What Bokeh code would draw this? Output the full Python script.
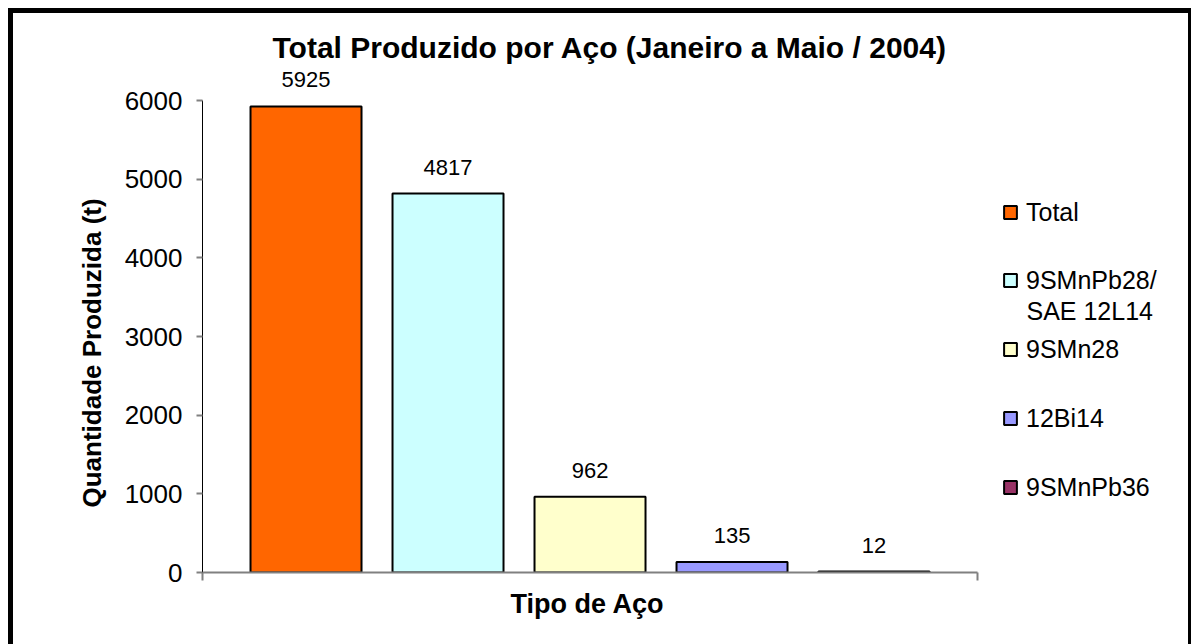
from bokeh.plotting import figure
from bokeh.models import (ColumnDataSource, Range1d, FixedTicker, LabelSet, Legend,
                          LegendItem, Title, Label, InlineStyleSheet)
from bokeh.core.properties import value
from bokeh.embed import file_html
from bokeh.resources import INLINE

categories = ["Total", "9SMnPb28/SAE 12L14", "9SMn28", "12Bi14", "9SMnPb36"]
legend_labels = ["Total", "9SMnPb28/", "9SMn28", "12Bi14", "9SMnPb36"]
legend_second_line = "SAE 12L14"
values = [5925, 4817, 962, 135, 12]
colors = ["#FF6600", "#CCFFFF", "#FFFFCC", "#9999FF", "#993366"]
y_ticks = [0, 1000, 2000, 3000, 4000, 5000, 6000]

FONT = "Liberation Sans"

xs = list(range(len(categories)))
src = ColumnDataSource(dict(
    x=xs, top=values, color=colors, cat=categories,
    label=[str(v) for v in values],
))

# layout (screen px of the frame)
FL, FR, FT, FB = 202, 1186, 66, 572
PX = 142.0                      # pixels per category step
x_lo = -0.729
x_hi = len(categories) - 1 + 0.729
x_view_hi = x_lo + (FR - FL) / PX      # frame extends under the legend
y_max = 6000
y_top = y_max * (FB - FT) / 472.0      # head-room above the axis for the labels

p = figure(width=1191, height=644, output_backend="svg", toolbar_location=None,
           x_range=Range1d(x_lo, x_view_hi), y_range=Range1d(0, y_top),
           min_border_left=FL, min_border_right=1191 - FR, min_border_top=FT,
           min_border_bottom=644 - FB)
p.outline_line_color = None
p.xgrid.grid_line_color = None
p.ygrid.grid_line_color = None
p.background_fill_color = "white"
p.border_fill_color = "white"
p.stylesheets = [InlineStyleSheet(css=(
    ":host::after { content: ''; position: absolute; left: 8px; top: 8px; right: 0; bottom: 0;"
    " border-style: solid; border-color: black; border-width: 5px 3px 0 5px;"
    " box-sizing: border-box; pointer-events: none; z-index: 10; }"))]

r = p.vbar(x="x", top="top", width=111 / PX, source=src, fill_color="color",
           line_color="black", line_width=2)

labels = LabelSet(x="x", y="top", text="label", source=src, y_offset=19,
                  text_align="center", text_baseline="alphabetic",
                  text_font=value(FONT), text_font_size="22px", text_color="black")
p.add_layout(labels)

# title
p.title.text = "Total Produzido por Aço (Janeiro a Maio / 2004)"
p.title.text_font = FONT
p.title.text_font_size = "30px"
p.title.text_font_style = "bold"
p.title.text_color = "black"
p.title.align = "left"
p.title.offset = 70
p.title.standoff = 5

# y axis
ya = p.yaxis[0]
ya.ticker = FixedTicker(ticks=y_ticks)
ya.bounds = (0, y_max)
ya.minor_tick_line_color = None
ya.major_tick_in = 0
ya.major_tick_out = 6
ya.major_tick_line_color = "#808080"
ya.major_tick_line_width = 2
ya.axis_line_color = "black"
ya.major_label_text_font = FONT
ya.major_label_text_font_size = "26px"
ya.major_label_text_color = "black"
ya.major_label_standoff = 14

# x axis
xa = p.xaxis[0]
xa.ticker = FixedTicker(ticks=[x_lo, x_hi])
xa.bounds = (x_lo, x_hi)
xa.major_label_overrides = {x_lo: "", x_hi: ""}
xa.major_label_text_font_size = "1px"
xa.major_label_standoff = 0
xa.minor_tick_line_color = None
xa.major_tick_in = 0
xa.major_tick_out = 8
xa.major_tick_line_color = "#808080"
xa.major_tick_line_width = 2
xa.axis_line_color = "#808080"
xa.axis_line_width = 2

# axis names (placed as side titles so they sit where the reference has them)
ytitle = Title(text="Quantidade Produzida (t)", align="left", offset=65, standoff=30,
               text_font=FONT, text_font_size="26px", text_font_style="bold", text_color="black")
p.add_layout(ytitle, "left")
xtitle = Title(text="Tipo de Aço", align="left", offset=308, standoff=13,
               text_font=FONT, text_font_size="27px", text_font_style="bold", text_color="black")
p.add_layout(xtitle, "below")

# legend: one block per entry so each sits where the reference puts it
legend_centers = [212, 280, 349, 418, 487]
for i in range(len(categories)):
    lg = Legend(items=[LegendItem(label=legend_labels[i], renderers=[r], index=i)],
                location=(1002 - FL, FB - (legend_centers[i] + 15)), orientation="vertical",
                glyph_width=16, glyph_height=16, label_standoff=8, label_height=30,
                padding=0, margin=0, border_line_color=None, background_fill_alpha=0,
                label_text_font=FONT, label_text_font_size="25px", label_text_color="black")
    p.add_layout(lg)

# second line of the wrapped legend entry
p.add_layout(Label(x=x_lo + (1026 - FL) / PX, y=(FB - 310) * y_top / (FB - FT),
                   text=legend_second_line, text_align="left", text_baseline="middle",
                   text_font=FONT, text_font_size="25px", text_color="black"))

open("out.html", "w").write(file_html(p, INLINE))
